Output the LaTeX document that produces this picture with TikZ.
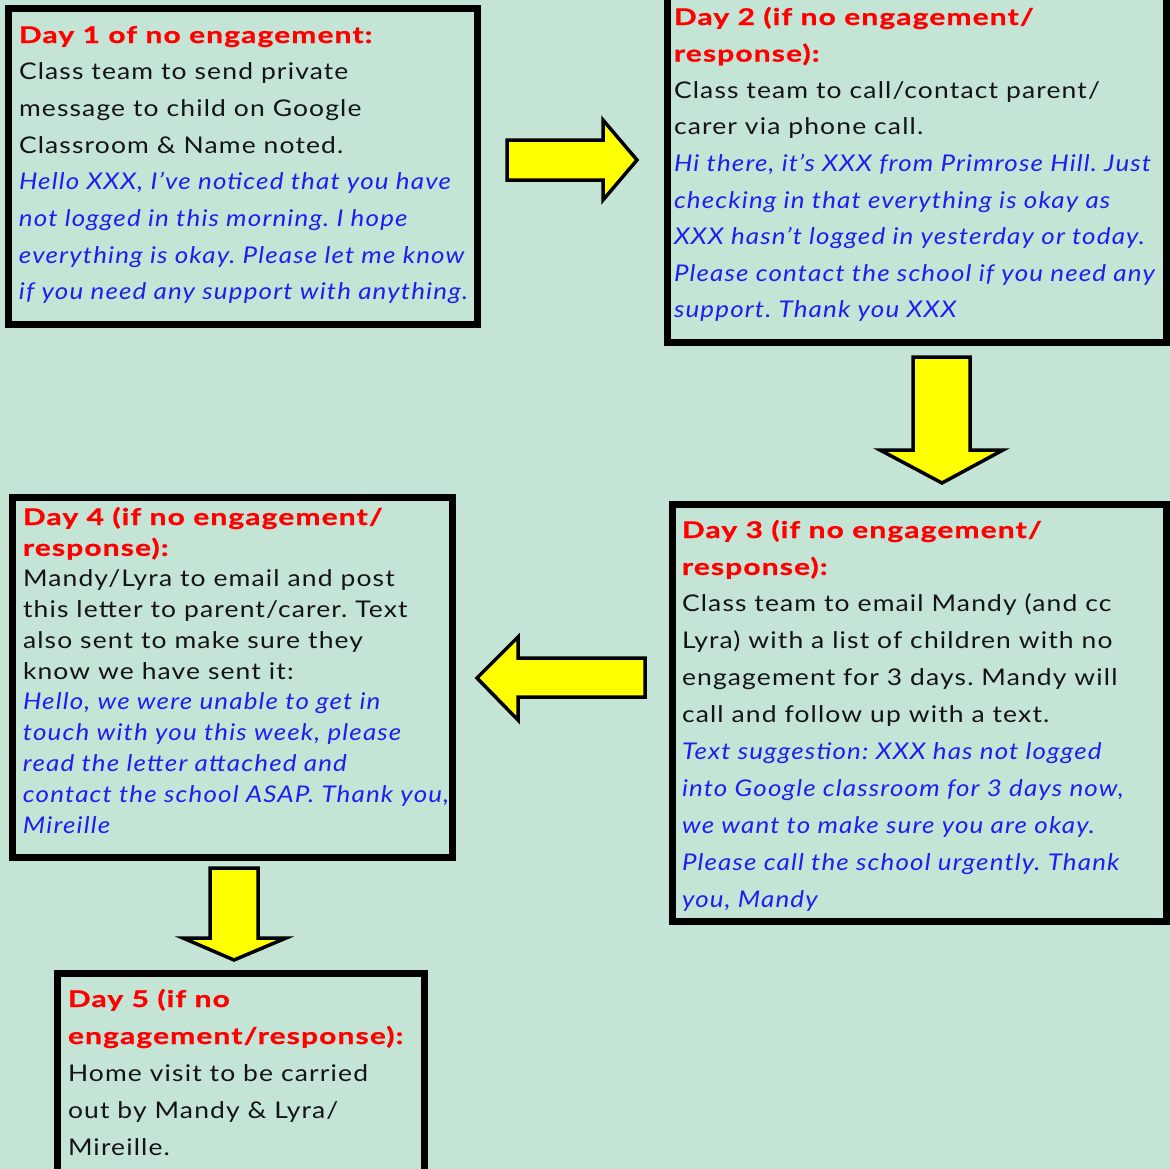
\documentclass[tikz,border=0pt]{standalone}
\usepackage{fontspec}
\setmainfont{Lato}[FakeStretch=1.15,LetterSpace=5]
\newfontfamily\headfont{Lato}[FakeStretch=1.3,LetterSpace=5,FakeBold=1]
\newfontfamily\msgfont{Lato}[FakeStretch=1.13,LetterSpace=5]
\definecolor{bgc}{RGB}{196,228,214}
\definecolor{hdred}{RGB}{255,0,0}
\definecolor{msgblue}{RGB}{30,30,240}
\definecolor{txtblack}{RGB}{20,20,20}
\definecolor{arrowyellow}{RGB}{255,255,0}
\newcommand\dayhead[1]{{\color{hdred}\headfont\bfseries #1}}
\newcommand\msgline[1]{{\color{msgblue}\msgfont\itshape #1}}
\newcommand\boxtext[2]{\parbox[t]{700bp}{\leavevmode\raggedright\frenchspacing\fontsize{23bp}{#1}\selectfont\color{txtblack}#2}}
\begin{document}
\begin{tikzpicture}[x=1bp,y=-1bp,
  box/.style={draw=black, line width=7bp, inner sep=0pt, outer sep=0pt},
  txt/.style={anchor=base west, inner sep=0pt, outer sep=0pt},
  blockarrow/.style={draw=black, fill=arrowyellow, line width=3.5bp, line join=miter}]
\fill[bgc] (0,0) rectangle (1170,1169);
\useasboundingbox (0,0) rectangle (1170,1169);
\clip (0,0) rectangle (1170,1169);

% boxes
\node[box, minimum width=468.5bp, minimum height=315.5bp] (b1) at (243.25,166.25) {};
\node[box, minimum width=499bp, minimum height=372.5bp] (b2) at (916.5,156.25) {};
\node[box, minimum width=493.5bp, minimum height=417bp] (b3) at (919.25,712.5) {};
\node[box, minimum width=439bp, minimum height=360bp] (b4) at (232.5,677) {};
\node[box, minimum width=366bp, minimum height=230bp] (b5) at (241,1088) {};

% texts
\node[txt] (t1) at (19,43) {\boxtext{36.7bp}{%
\dayhead{Day 1 of no engagement:}\\
Class team to send private\\
message to child on Google\\
Classroom \& Name noted.\\
\msgline{Hello XXX, I’ve noticed that you have}\\
\msgline{not logged in this morning. I hope}\\
\msgline{everything is okay. Please let me know}\\
\msgline{if you need any support with anything.}}};

\node[txt] (t2) at (674,25) {\boxtext{36.6bp}{%
\dayhead{Day 2 (if no engagement/}\\
\dayhead{response):}\\
Class team to call/contact parent/\\
carer via phone call.\\
\msgline{Hi there, it’s XXX from Primrose Hill. Just}\\
\msgline{checking in that everything is okay as}\\
\msgline{XXX hasn’t logged in yesterday or today.}\\
\msgline{Please contact the school if you need any}\\
\msgline{support. Thank you XXX}}};

\node[txt] (t3) at (682,538) {\boxtext{36.9bp}{%
\dayhead{Day 3 (if no engagement/}\\
\dayhead{response):}\\
Class team to email Mandy (and cc\\
Lyra) with a list of children with no\\
engagement for 3 days. Mandy will\\
call and follow up with a text.\\
\msgline{Text suggestion: XXX has not logged}\\
\msgline{into Google classroom for 3 days now,}\\
\msgline{we want to make sure you are okay.}\\
\msgline{Please call the school urgently. Thank}\\
\msgline{you, Mandy}}};

\node[txt] (t4) at (23,525) {\boxtext{30.8bp}{%
\dayhead{Day 4 (if no engagement/}\\
\dayhead{response):}\\
Mandy/Lyra to email and post\\
this letter to parent/carer. Text\\
also sent to make sure they\\
know we have sent it:\\
\msgline{Hello, we were unable to get in}\\
\msgline{touch with you this week, please}\\
\msgline{read the letter attached and}\\
\msgline{contact the school ASAP. Thank you,}\\
\msgline{Mireille}}};

\node[txt] (t5) at (68,1007) {\boxtext{37bp}{%
\dayhead{Day 5 (if no}\\
\dayhead{engagement/response):}\\
Home visit to be carried\\
out by Mandy \& Lyra/\\
Mireille.}};

% block arrows
\draw[blockarrow] (507,140) -- (603,140) -- (603,120) -- (637,160) -- (603,200) -- (603,180) -- (507,180) -- cycle;
\draw[blockarrow] (913,357) -- (970,357) -- (970,450) -- (1003,450) -- (942,483) -- (880,450) -- (913,450) -- cycle;
\draw[blockarrow] (645,658) -- (518,658) -- (518,637) -- (477,678) -- (518,720) -- (518,697) -- (645,697) -- cycle;
\draw[blockarrow] (210,868) -- (258,868) -- (258,938) -- (286,938) -- (234,960) -- (183,938) -- (210,938) -- cycle;
\end{tikzpicture}
\end{document}
